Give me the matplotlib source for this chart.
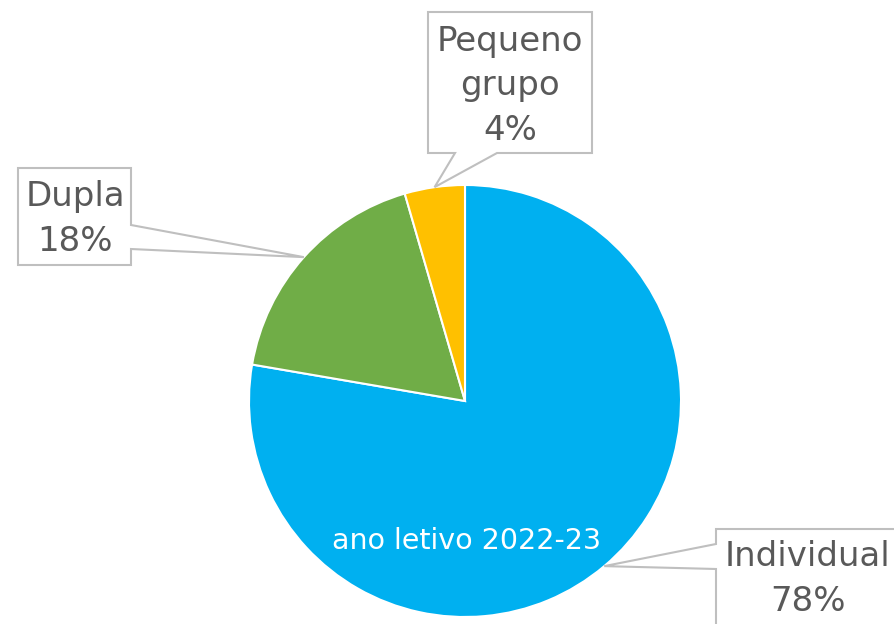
import numpy as np
import matplotlib
matplotlib.use("Agg")
import matplotlib.pyplot as plt
from matplotlib.patches import Polygon

# Data
categories = ["Individual", "Dupla", "Pequeno\ngrupo"]
values = [77.7, 17.8, 4.5]          # shares as drawn
pct_labels = ["78%", "18%", "4%"]   # labels as printed
colors = ["#00B0F0", "#70AD47", "#FFC000"]
center_text = "ano letivo 2022-23"

W, H = 894, 624
fig = plt.figure(figsize=(W / 100, H / 100), dpi=100)
ax = fig.add_axes([0, 0, 1, 1])

def fy(y):
    return H - y

cx, cy, R = 465, fy(401), 216
wedges, _ = ax.pie(values, colors=colors, startangle=90, counterclock=False,
                   center=(cx, cy), radius=R, frame=True,
                   wedgeprops=dict(edgecolor="white", linewidth=1.5))
ax.set_xlim(0, W)
ax.set_ylim(0, H)
ax.set_aspect("equal")
ax.axis("off")

FONT = ["DejaVu Sans"]
GRAY = "#595959"
EDGE = "#BFBFBF"

# label layout (box in image px: x0, y0, x1, y1), side, leader positions
layout = {
    0: dict(box=(716, 529, 905, 640), side="left", g=(544, 569), txt=(808, 579)),
    1: dict(box=(18, 168, 131, 265), side="right", g=(225, 249), txt=(75, 219)),
    2: dict(box=(428, 12, 592, 153), side="bottom", g=(455, 497), txt=(510, 86)),
}

for i, w in enumerate(wedges):
    ang = np.deg2rad((w.theta1 + w.theta2) / 2)
    ax_, ay_ = cx + R * np.cos(ang), cy + R * np.sin(ang)
    L = layout[i]
    x0, y0, x1, y1 = L["box"]
    g0, g1 = L["g"]
    if L["side"] == "left":
        pts = [(x0, y0), (x1, y0), (x1, y1), (x0, y1), (x0, g1), None, (x0, g0)]
    elif L["side"] == "right":
        pts = [(x0, y0), (x1, y0), (x1, g0), None, (x1, g1), (x1, y1), (x0, y1)]
    else:
        pts = [(x0, y0), (x1, y0), (x1, y1), (g1, y1), None, (g0, y1), (x0, y1)]
    verts = []
    for p in pts:
        if p is None:
            verts.append((ax_, ay_))
        else:
            verts.append((p[0], fy(p[1])))
    ax.add_patch(Polygon(verts, closed=True, facecolor="white", edgecolor=EDGE,
                         linewidth=1.5, zorder=3, clip_on=False))
    tx, ty = L["txt"]
    ax.text(tx, fy(ty), f"{categories[i]}\n{pct_labels[i]}", ha="center", va="center",
            fontsize=24.5, color=GRAY, family=FONT, linespacing=1.45, zorder=4)

ax.text(467, fy(541), center_text, ha="center", va="center", fontsize=20.5,
        color="white", family=FONT, zorder=4)

fig.savefig("out.png", dpi=100)
